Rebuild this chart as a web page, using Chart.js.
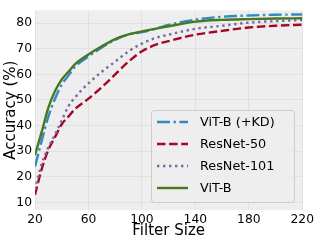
<!DOCTYPE html>
<html>
<head>
<meta charset="utf-8">
<script src="https://cdn.jsdelivr.net/npm/chart.js@4"></script>
<style>
  body { margin: 0; background: #fff; }
  #wrap { width: 316px; height: 243px; }
</style>
</head>
<body>
<div id="wrap"><canvas id="acc" width="316" height="243"></canvas></div>
<script>
// filter sizes (x) and accuracy per model
const filterSizes = [20, 25, 30, 35, 40, 45, 50, 60, 70, 80, 90, 100, 110, 120, 140, 160, 180, 200, 220];
const vitKD     = [24, 34, 43.5, 50.5, 56, 59.5, 63, 67, 70.5, 73.5, 75.6, 76.5, 77.8, 79.3, 81.4, 82.5, 83.0, 83.3, 83.4];
const resnet50  = [13, 23, 30.5, 35.5, 40.5, 43.5, 46.5, 50.5, 55, 60, 65, 69, 71.5, 73, 75.5, 77, 78.3, 79, 79.4];
const resnet101 = [15, 25, 31.5, 36.5, 42, 47.5, 51, 56.5, 61, 65, 69, 72, 74.2, 75.5, 77.8, 79, 80.2, 80.8, 81.2];
const vitB      = [28.5, 37.5, 47, 53.5, 58, 61, 64, 67.8, 71, 73.8, 75.6, 76.8, 77.8, 78.8, 80.6, 81.3, 81.6, 81.8, 81.9];
const seriesNames = ['ViT-B (+KD)', 'ResNet-50', 'ResNet-101', 'ViT-B'];
const xTicks = [20, 60, 100, 140, 180, 220];
const yTicks = [10, 20, 30, 40, 50, 60, 70, 80];

const FONT = 'DejaVu Sans';

function pts(ys) {
  return filterSizes.map((x, i) => ({ x: x, y: ys[i] }));
}

const datasets = [
  { label: seriesNames[0], data: pts(vitKD), borderColor: '#348ABD', borderDash: [13, 3.5, 2.4, 3.5], order: 1 },
  { label: seriesNames[1], data: pts(resnet50), borderColor: '#A60628', borderDash: [8.5, 3.6], order: 3 },
  { label: seriesNames[2], data: pts(resnet101), borderColor: '#7A68A6', borderDash: [2.4, 3.6], order: 2 },
  { label: seriesNames[3], data: pts(vitB), borderColor: '#467821', borderDash: [], order: 0 }
];
datasets.forEach(d => {
  d.borderWidth = 2.4;
  d.pointRadius = 0;
  d.fill = false;
  d.cubicInterpolationMode = 'monotone';
});

// grey panel behind the plot
const panelBg = {
  id: 'panelBg',
  beforeDraw(chart) {
    const a = chart.chartArea, c = chart.ctx;
    c.save();
    c.fillStyle = '#eeeeee';
    c.fillRect(a.left, a.top, a.right - a.left, a.bottom - a.top);
    c.restore();
  }
};

// legend box inside the plot, lower right
const boxLegend = {
  id: 'boxLegend',
  afterDraw(chart) {
    const c = chart.ctx;
    const x0 = 151, y0 = 110, w = 143, h = 92;
    c.save();
    c.fillStyle = 'rgba(238,238,238,0.8)';
    c.strokeStyle = '#cccccc';
    c.lineWidth = 1;
    c.beginPath();
    c.roundRect(x0 + 0.5, y0 + 0.5, w, h, 3);
    c.fill();
    c.stroke();
    c.font = '12.8px "' + FONT + '"';
    c.textBaseline = 'middle';
    c.fillStyle = '#000';
    chart.data.datasets.forEach((d, i) => {
      const y = 122 + i * 22;
      c.strokeStyle = d.borderColor;
      c.lineWidth = d.borderWidth;
      c.setLineDash(d.borderDash);
      c.beginPath();
      c.moveTo(157, y);
      c.lineTo(188, y);
      c.stroke();
      c.setLineDash([]);
      c.fillText(d.label, 200, y + 1);
    });
    c.restore();
  }
};

new Chart(document.getElementById('acc'), {
  type: 'line',
  data: { datasets: datasets },
  options: {
    responsive: false,
    animation: false,
    layout: { padding: { top: 3, right: 13, left: 0, bottom: 0 } },
    plugins: { legend: { display: false }, tooltip: { enabled: false } },
    scales: {
      x: {
        type: 'linear',
        min: 20,
        max: 220,
        afterBuildTicks: s => { s.ticks = xTicks.map(v => ({ value: v })); },
        afterFit: s => { s.height = 33; },
        border: { display: false },
        grid: { color: '#dcdcdc', lineWidth: 0.8, drawTicks: false },
        ticks: { color: '#000', padding: 2, maxRotation: 0, font: { family: FONT, size: 12.3 } },
        title: { display: true, text: 'Filter Size', color: '#000', padding: { top: 0, bottom: 3 }, font: { family: FONT, size: 15 } }
      },
      y: {
        min: 7,
        max: 85,
        afterBuildTicks: s => { s.ticks = yTicks.map(v => ({ value: v })); },
        afterFit: s => { s.width = 35; },
        border: { display: false },
        grid: { color: '#dcdcdc', lineWidth: 0.8, drawTicks: false },
        ticks: { color: '#000', padding: 3, font: { family: FONT, size: 12.3 } },
        title: { display: true, text: 'Accuracy (%)', color: '#000', padding: { top: 2, bottom: 0 }, font: { family: FONT, size: 15 } }
      }
    }
  },
  plugins: [panelBg, boxLegend]
});
</script>
</body>
</html>
